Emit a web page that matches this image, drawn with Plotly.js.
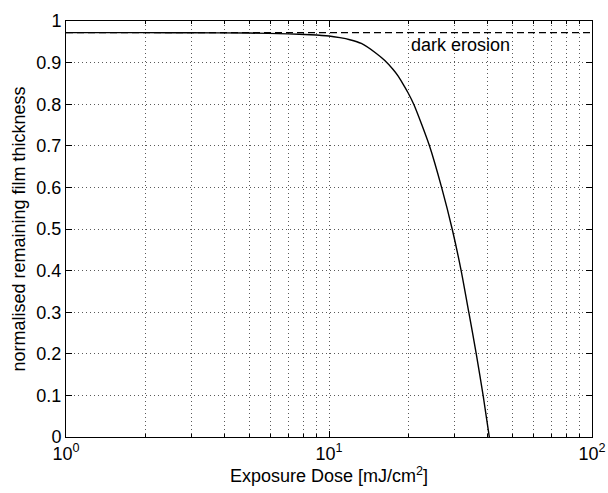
<!DOCTYPE html>
<html>
<head>
<meta charset="utf-8">
<script src="https://cdn.plot.ly/plotly-3.0.1.min.js"></script>
<style>html,body{margin:0;padding:0;background:#fff;}#chart{width:608px;height:493px;}</style>
</head>
<body>
<div id="chart"></div>
<script>
// Exposure dose [mJ/cm^2] and normalised remaining film thickness
const dose      = [1, 2, 3, 5, 7, 8.5, 10, 11, 12, 13.27, 15.14, 16.3, 17.5, 18.3, 19.1, 20.0, 21.0, 22.5, 24.1, 26.8, 29.4, 31.8, 34.0, 36.3, 38.55, 40.7];
const thickness = [0.972, 0.972, 0.9718, 0.971, 0.969, 0.967, 0.964, 0.960, 0.955, 0.946, 0.922, 0.905, 0.884, 0.868, 0.849, 0.827, 0.8, 0.752, 0.7, 0.6, 0.5, 0.4, 0.3, 0.2, 0.1, 0];
// Dark erosion level
const erosionDose  = [1, 100];
const erosionLevel = [0.972, 0.972];
const erosionLabel = "dark erosion";
// Axis ticks
const xTickVals = [1, 10, 100];
const xTickText = ["10<sup>0</sup>", "10<sup>1</sup>", "10<sup>2</sup>"];
const xMinorVals = [2, 3, 4, 5, 6, 7, 8, 9, 20, 30, 40, 50, 60, 70, 80, 90];
const yTickVals = [0, 0.1, 0.2, 0.3, 0.4, 0.5, 0.6, 0.7, 0.8, 0.9, 1];
const yTickText = ["0", "0.1", "0.2", "0.3", "0.4", "0.5", "0.6", "0.7", "0.8", "0.9", "1"];

const FONT = "Liberation Sans, Arial, Helvetica, sans-serif";
const GRID = "#5a5a5a";

const traces = [
  {x: erosionDose, y: erosionLevel, mode: "lines", type: "scatter",
   line: {color: "#000", width: 1.2, dash: "7px,4px"}, hoverinfo: "skip"},
  {x: dose, y: thickness, mode: "lines", type: "scatter",
   line: {color: "#000", width: 1.4, shape: "spline", smoothing: 0.6}, hoverinfo: "skip"}
];

const layout = {
  width: 608, height: 493,
  margin: {l: 66, r: 15.5, t: 21, b: 56},
  paper_bgcolor: "#fff", plot_bgcolor: "#fff",
  showlegend: false,
  font: {family: FONT, size: 18, color: "#000"},
  xaxis: {
    type: "log", range: [0, 2],
    tickmode: "array", tickvals: xTickVals, ticktext: xTickText,
    ticks: "inside", ticklen: 6, tickcolor: "#000",
    showline: true, linecolor: "#000", linewidth: 1, mirror: "ticks",
    showgrid: true, gridcolor: GRID, griddash: "1px,3px", gridwidth: 1,
    minor: {tickmode: "array", tickvals: xMinorVals, ticks: "inside", ticklen: 3, tickcolor: "#000",
            showgrid: true, gridcolor: GRID, griddash: "1px,3px", gridwidth: 1},
    zeroline: false,
    tickfont: {family: FONT, size: 18},
    title: {text: "Exposure Dose [mJ/cm<sup>2</sup>]", font: {family: FONT, size: 18}, standoff: 6}
  },
  yaxis: {
    range: [0, 1],
    tickmode: "array", tickvals: yTickVals, ticktext: yTickText,
    ticks: "inside", ticklen: 6, tickcolor: "#000",
    showline: true, linecolor: "#000", linewidth: 1, mirror: "ticks",
    showgrid: true, gridcolor: GRID, griddash: "1px,3px", gridwidth: 1,
    zeroline: false,
    tickfont: {family: FONT, size: 18},
    title: {text: "normalised remaining film thickness", font: {family: FONT, size: 18}, standoff: 6}
  },
  annotations: [
    {x: Math.log10(20.1), y: 0.942, xref: "x", yref: "y", text: erosionLabel,
     showarrow: false, xanchor: "left", yanchor: "middle",
     font: {family: FONT, size: 18, color: "#000"}}
  ]
};

Plotly.newPlot("chart", traces, layout, {displayModeBar: false, staticPlot: true});
</script>
</body>
</html>
